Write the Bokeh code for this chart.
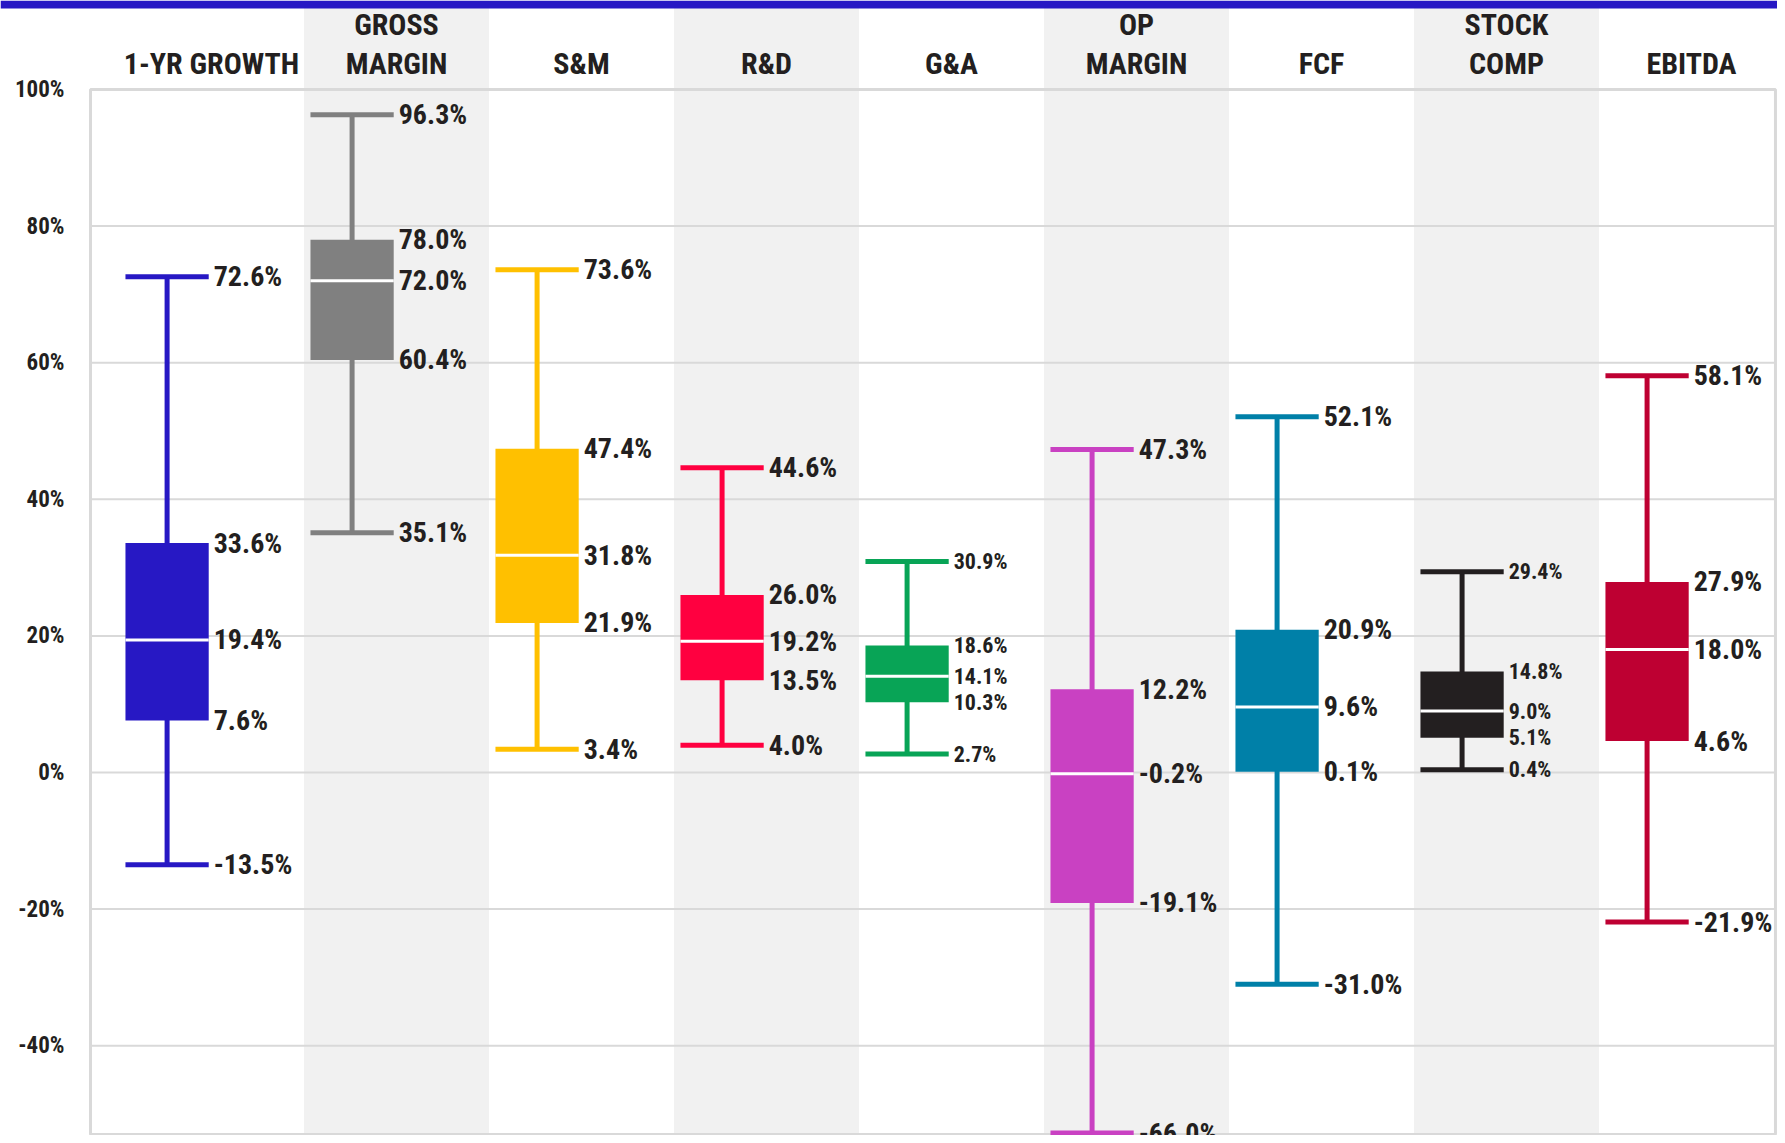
from bokeh.plotting import figure
from bokeh.models import Range1d, ColumnDataSource
from bokeh.core.properties import value
from bokeh.embed import file_html
from bokeh.resources import INLINE

# ---------------- data ----------------
categories = ["1-YR GROWTH", "GROSS MARGIN", "S&M", "R&D", "G&A",
              "OP MARGIN", "FCF", "STOCK COMP", "EBITDA"]
header_top = ["", "GROSS", "", "", "", "OP", "", "STOCK", ""]
header_bottom = ["1-YR GROWTH", "MARGIN", "S&M", "R&D", "G&A",
                 "MARGIN", "FCF", "COMP", "EBITDA"]
lows = [-13.5, 35.1, 3.4, 4.0, 2.7, -66.0, -31.0, 0.4, -21.9]
q1s = [7.6, 60.4, 21.9, 13.5, 10.3, -19.1, 0.1, 5.1, 4.6]
medians = [19.4, 72.0, 31.8, 19.2, 14.1, -0.2, 9.6, 9.0, 18.0]
q3s = [33.6, 78.0, 47.4, 26.0, 18.6, 12.2, 20.9, 14.8, 27.9]
highs = [72.6, 96.3, 73.6, 44.6, 30.9, 47.3, 52.1, 29.4, 58.1]
y_ticks = [-40, -20, 0, 20, 40, 60, 80, 100]
y_tick_labels = ["-40%", "-20%", "0%", "20%", "40%", "60%", "80%", "100%"]

# ---------------- styles ----------------
colors = ["#2718c4", "#808080", "#ffc000", "#ff0040", "#08a456",
          "#c941c2", "#0080a8", "#231f20", "#be0032"]
small_labels = [False, False, False, False, True, False, False, True, False]
FONT = "'Roboto Condensed', 'Liberation Sans Narrow', 'DejaVu Sans Condensed', sans-serif"
TEXT_COLOR = "#231f20"
GRID_COLOR = "#d9d9d9"
BAND_COLOR = "#f1f1f1"

W, H = 1777, 1135
PX_PER_PCT = 6.83
X_START, X_END = -1.1405, 8.465
Y_START, Y_END = -53.15, 113.03
PLOT_L, PLOT_R, PLOT_B, PLOT_T = -0.654, 8.454, -52.99, 100
BOX_SHIFT = -0.24
BOX_W = 0.45

p = figure(width=W, height=H, output_backend="svg", toolbar_location=None,
           x_range=Range1d(X_START, X_END), y_range=Range1d(Y_START, Y_END),
           x_axis_location=None, y_axis_location=None,
           min_border_left=0, min_border_right=0, min_border_top=0,
           min_border_bottom=0)
p.outline_line_color = None
p.background_fill_color = "white"
p.border_fill_color = "white"
p.xgrid.visible = False
p.ygrid.visible = False

idx = list(range(len(categories)))

# alternating background bands
band_idx = [i for i in idx if i % 2 == 1]
p.quad(left=[i - 0.5 for i in band_idx], right=[i + 0.5 for i in band_idx],
       bottom=PLOT_B, top=Y_END, color=BAND_COLOR, line_color=None)

# grid lines
p.segment(x0=[PLOT_L] * len(y_ticks), y0=y_ticks,
          x1=[PLOT_R] * len(y_ticks), y1=y_ticks,
          line_color=GRID_COLOR, line_width=2)

# plot box outline
p.quad(left=[PLOT_L], right=[PLOT_R], bottom=[PLOT_B], top=[PLOT_T],
       fill_color=None, line_color=GRID_COLOR, line_width=3)

# top accent band
p.quad(left=[X_START], right=[X_END], bottom=[Y_END - 8 / PX_PER_PCT],
       top=[Y_END], color=colors[0], line_color=None)

# y tick labels
p.text(x=[PLOT_L] * len(y_ticks), y=y_ticks, text=y_tick_labels, x_offset=-26,
       text_font=value(FONT), text_font_style="bold", text_font_size="23px",
       text_color=TEXT_COLOR, text_align="right", text_baseline="middle")

# headers
p.text(x=idx, y=[(772 - 24) / PX_PER_PCT] * len(idx), text=header_top,
       text_font=value(FONT), text_font_style="bold", text_font_size="30px",
       text_color=TEXT_COLOR, text_align="center", text_baseline="middle")
p.text(x=idx, y=[(772 - 63) / PX_PER_PCT] * len(idx), text=header_bottom,
       text_font=value(FONT), text_font_style="bold", text_font_size="30px",
       text_color=TEXT_COLOR, text_align="center", text_baseline="middle")

# box plots
centers = [i + BOX_SHIFT for i in idx]
clip_low = Y_START + 0.35
low_draw = [max(v, clip_low) for v in lows]
left_edges = [c - BOX_W / 2 for c in centers]
right_edges = [c + BOX_W / 2 for c in centers]

p.segment(x0=centers, y0=low_draw, x1=centers, y1=highs, line_color=colors,
          line_width=5)
p.segment(x0=left_edges, y0=highs, x1=right_edges, y1=highs,
          line_color=colors, line_width=5)
p.segment(x0=left_edges, y0=low_draw, x1=right_edges, y1=low_draw,
          line_color=colors, line_width=5)
p.vbar(x=centers, width=BOX_W, bottom=q1s, top=q3s, fill_color=colors,
       line_color=None)
p.segment(x0=left_edges, y0=medians, x1=right_edges, y1=medians,
          line_color="white", line_width=3)

# value labels
lx, ly, lt, ls = [], [], [], []
for i in idx:
    for v, vd in ((highs[i], highs[i]), (q3s[i], q3s[i]), (medians[i], medians[i]),
                  (q1s[i], q1s[i]), (lows[i], low_draw[i])):
        lx.append(right_edges[i])
        ly.append(vd)
        lt.append(f"{v:.1f}%")
        ls.append("22px" if small_labels[i] else "28px")
labels = ColumnDataSource(dict(x=lx, y=ly, text=lt, size=ls))
p.text(x="x", y="y", text="text", source=labels, x_offset=5,
       text_font=value(FONT), text_font_style="bold", text_font_size="size",
       text_color=TEXT_COLOR, text_align="left", text_baseline="middle")

open("out.html", "w").write(file_html(p, INLINE))
